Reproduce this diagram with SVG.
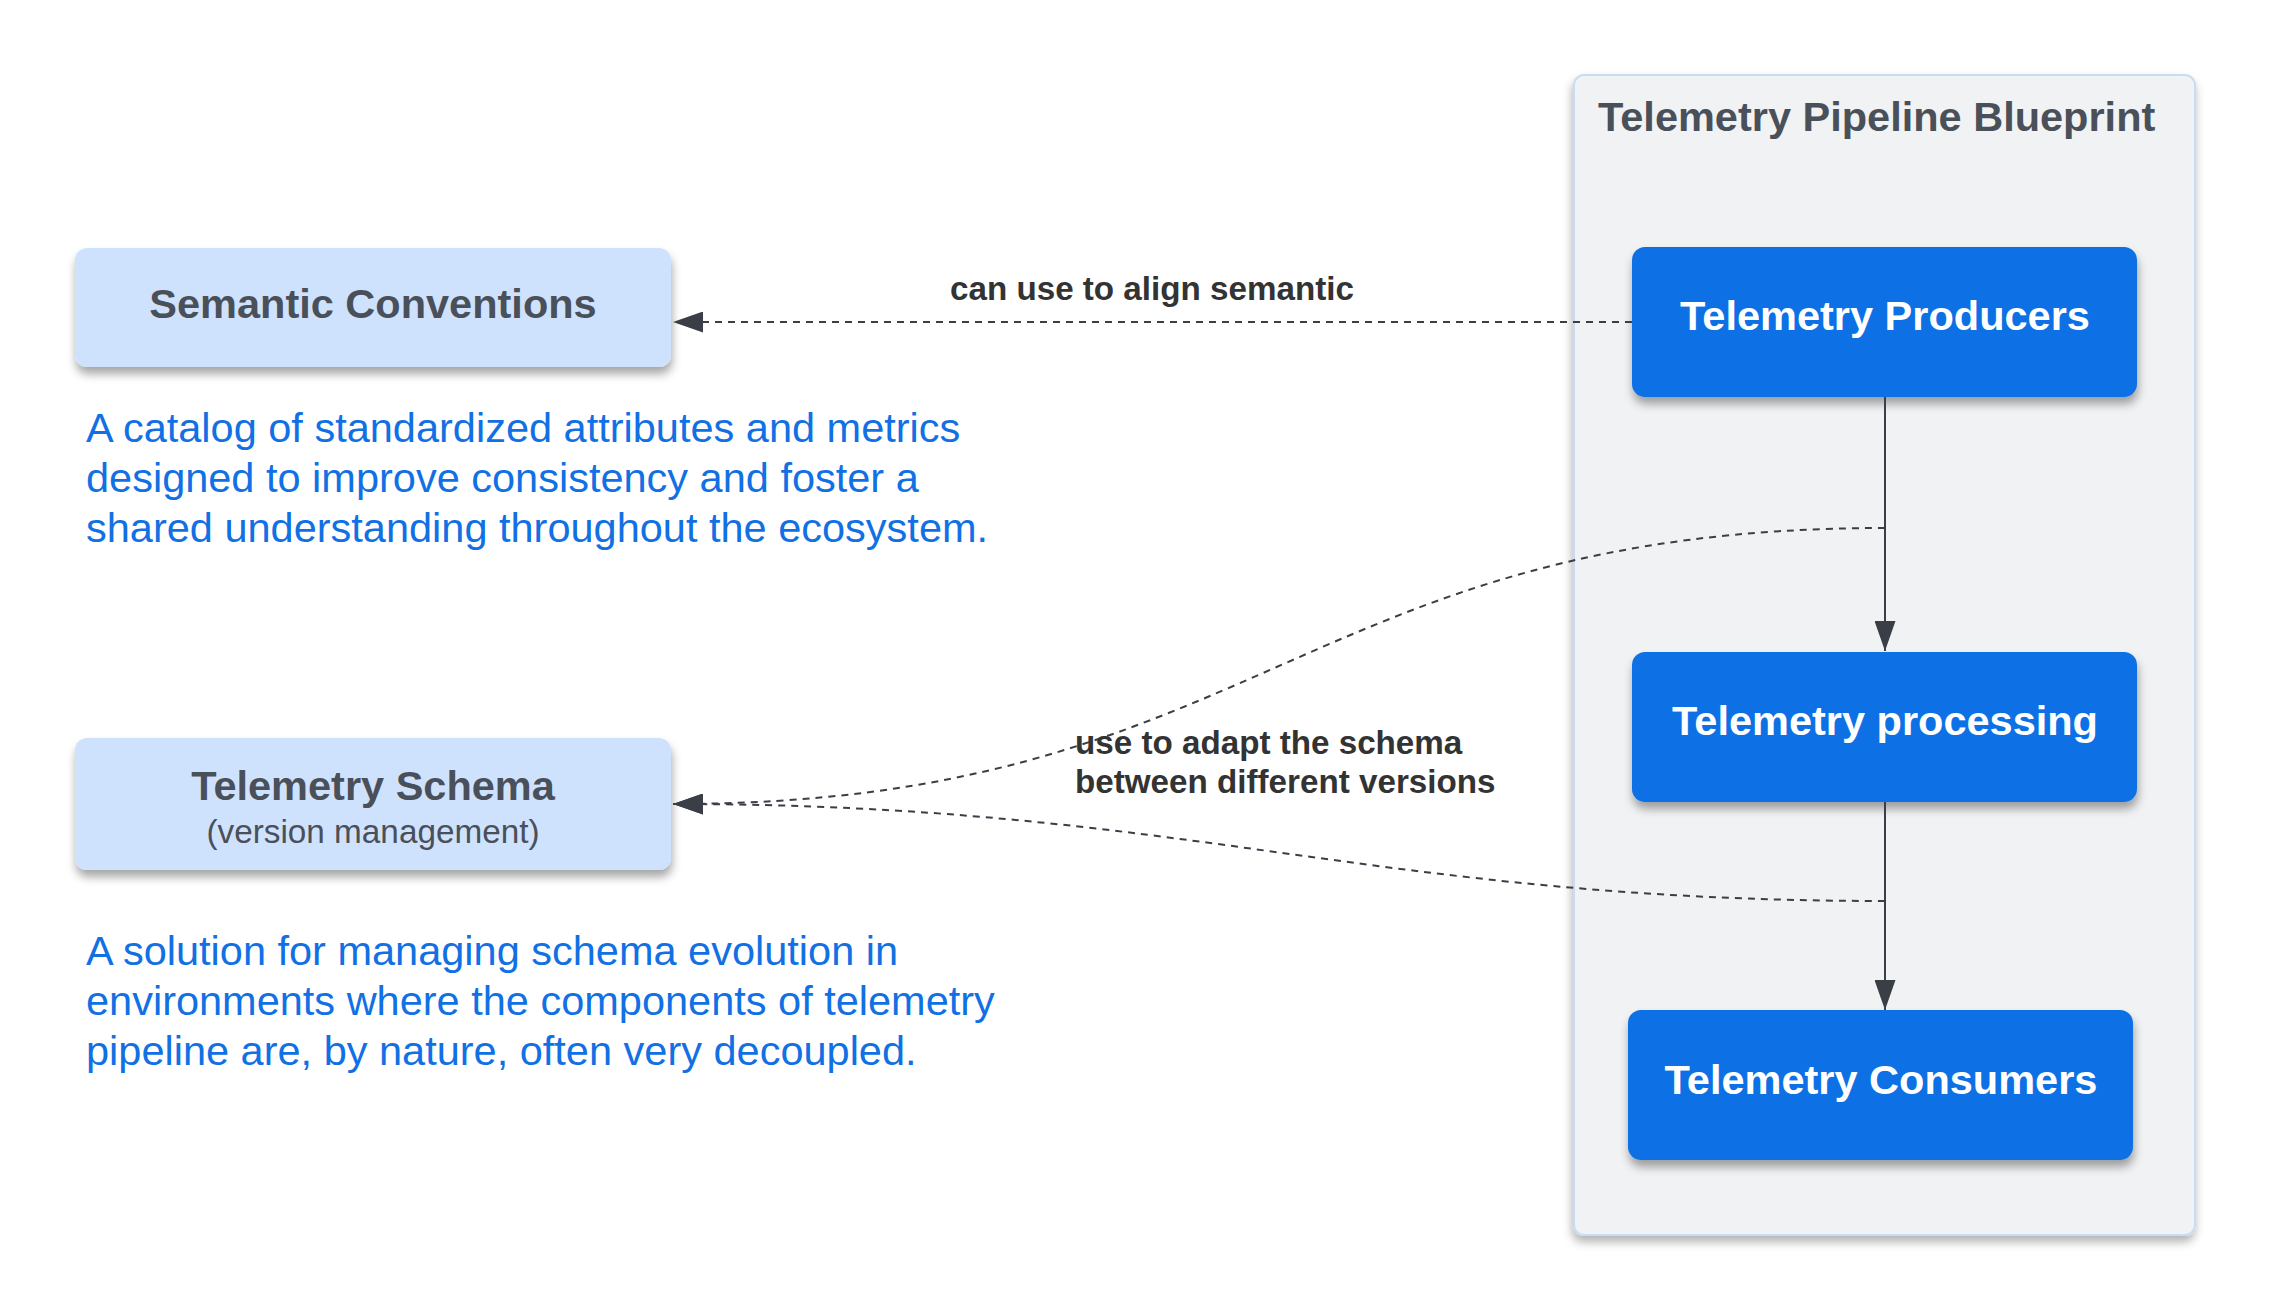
<svg xmlns="http://www.w3.org/2000/svg" width="2269" height="1311" viewBox="0 0 2269 1311">
  <style>
    .title { font-family: "Liberation Sans", Arial, sans-serif; font-weight: bold; font-size: 41.5px; }
    .dark { fill: #4a5059; }
    .white { fill: #ffffff; }
    .sub { font-family: "Liberation Sans", Arial, sans-serif; font-size: 33.3px; fill: #4a5059; }
    .desc { font-family: "Liberation Sans", Arial, sans-serif; font-size: 41.5px; fill: #1170e4; }
    .lbl { font-family: "Liberation Sans", Arial, sans-serif; font-weight: bold; font-size: 33.2px; fill: #333333; }
    .light { fill: #cfe2fd; }
    .blue { fill: #1071e5; }
    .dash { fill: none; stroke: #3a3f47; stroke-width: 2; stroke-dasharray: 7 6; }
    .solid { fill: none; stroke: #3a3f47; stroke-width: 2; }
  </style>
  <defs>
    <filter id="shadow" x="-10%" y="-20%" width="120%" height="150%">
      <feDropShadow dx="1" dy="7" stdDeviation="5" flood-color="#000000" flood-opacity="0.35"/>
    </filter>
    <filter id="cshadow" x="-10%" y="-10%" width="120%" height="120%">
      <feDropShadow dx="-1" dy="6" stdDeviation="5" flood-color="#000000" flood-opacity="0.3"/>
    </filter>
    <marker id="arrow" viewBox="0 0 30 21" markerWidth="30" markerHeight="21" refX="30" refY="10.5" orient="auto" markerUnits="userSpaceOnUse">
      <path d="M0,0 L30,10.5 L0,21 Z" fill="#3a3f47"/>
    </marker>
  </defs>
  <rect width="2269" height="1311" fill="#ffffff"/>

  <g id="pipeline-container">
    <rect x="1574" y="75" width="621" height="1160" rx="10" fill="#f1f2f4" stroke="#c8dcf6" stroke-width="2" filter="url(#cshadow)"/>
    <text class="title dark" x="1598" y="131">Telemetry Pipeline Blueprint</text>
  </g>

  <g id="semantic-conventions">
    <rect class="light" x="75" y="248" width="596" height="119" rx="12" filter="url(#shadow)"/>
    <text class="title dark" x="373" y="318" text-anchor="middle">Semantic Conventions</text>
  </g>

  <g id="semantic-conventions-desc">
    <text class="desc" x="86" y="442">A catalog of standardized attributes and metrics</text>
    <text class="desc" x="86" y="492">designed to improve consistency and foster a</text>
    <text class="desc" x="86" y="542">shared understanding throughout the ecosystem.</text>
  </g>

  <g id="telemetry-schema">
    <rect class="light" x="75" y="738" width="596" height="132" rx="12" filter="url(#shadow)"/>
    <text class="title dark" x="373" y="800" text-anchor="middle">Telemetry Schema</text>
    <text class="sub" x="373" y="843" text-anchor="middle">(version management)</text>
  </g>

  <g id="telemetry-schema-desc">
    <text class="desc" x="86" y="965">A solution for managing schema evolution in</text>
    <text class="desc" x="86" y="1015">environments where the components of telemetry</text>
    <text class="desc" x="86" y="1065">pipeline are, by nature, often very decoupled.</text>
  </g>

  <g id="telemetry-producers">
    <rect class="blue" x="1632" y="247" width="505" height="150" rx="13" filter="url(#shadow)"/>
    <text class="title white" x="1885" y="330" text-anchor="middle">Telemetry Producers</text>
  </g>

  <g id="telemetry-processing">
    <rect class="blue" x="1632" y="652" width="505" height="150" rx="13" filter="url(#shadow)"/>
    <text class="title white" x="1885" y="735" text-anchor="middle">Telemetry processing</text>
  </g>

  <g id="telemetry-consumers">
    <rect class="blue" x="1628" y="1010" width="505" height="150" rx="13" filter="url(#shadow)"/>
    <text class="title white" x="1881" y="1094" text-anchor="middle">Telemetry Consumers</text>
  </g>

  <g id="connectors">
    <path class="dash" d="M1632,322 L673,322" marker-end="url(#arrow)"/>
    <path class="solid" d="M1885,397 L1885,651" marker-end="url(#arrow)"/>
    <path class="solid" d="M1885,802 L1885,1010" marker-end="url(#arrow)"/>
    <path class="dash" d="M1885,528 C1300,528 1258,804 673,804" marker-end="url(#arrow)"/>
    <path class="dash" d="M1885,901 C1371,901 1187,804 673,804" marker-end="url(#arrow)"/>
    <text class="lbl" x="950" y="300">can use to align semantic</text>
    <text class="lbl" x="1075" y="754">use to adapt the schema</text>
    <text class="lbl" x="1075" y="793">between different versions</text>
  </g>
</svg>
